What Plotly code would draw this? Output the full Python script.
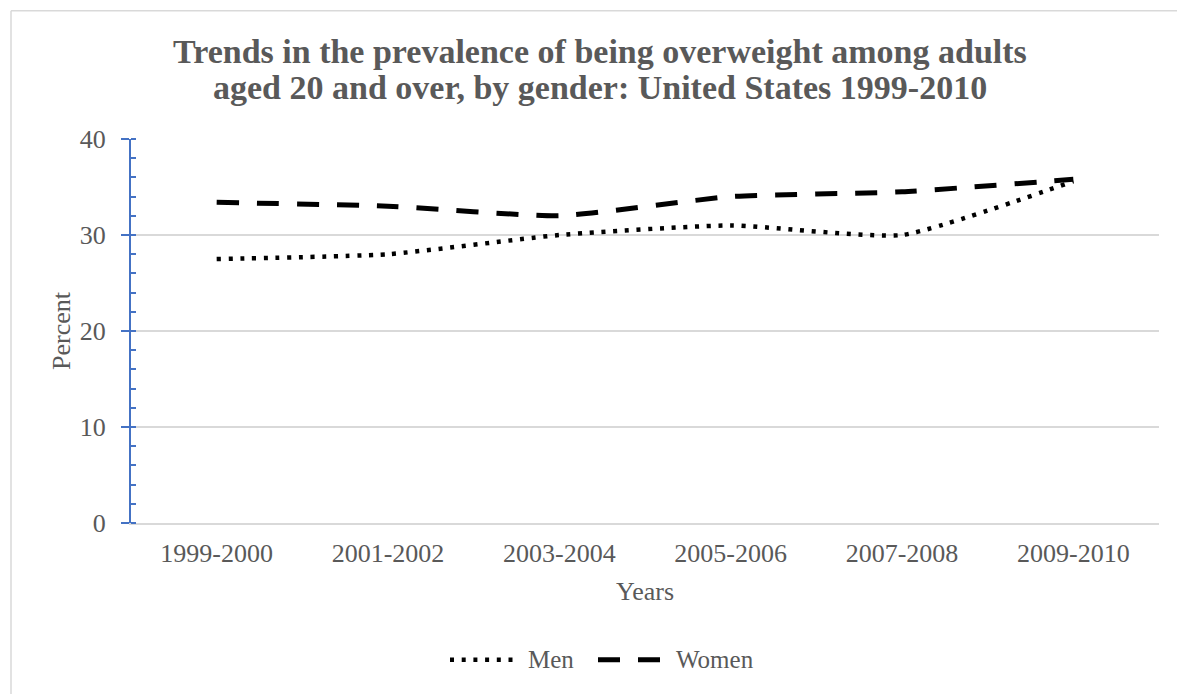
import plotly.graph_objects as go

# Survey periods and prevalence (percent) by gender
periods = ["1999-2000", "2001-2002", "2003-2004", "2005-2006", "2007-2008", "2009-2010"]
men = [27.5, 28.0, 30.0, 31.0, 30.0, 35.6]
women = [33.4, 33.0, 32.0, 34.0, 34.5, 35.8]

series_names = ["Men", "Women"]

title_lines = [
    "Trends in the prevalence of being overweight among adults",
    "aged 20 and over, by gender: United States 1999-2010",
]

FONT = "Liberation Serif"
GREY = "#595959"
GRID = "#D9D9D9"
MEN_LINE = dict(color="black", width=4.5, dash="4px,7.7px")
WOMEN_LINE = dict(color="black", width=5, dash="22px,18px")

# plot-area geometry in pixels (used to place titles/legend/borders in paper units)
L, T, W, H = 131, 139.3, 1028, 384


def px_x(x):
    return (x - L) / W


def px_y(y):
    return 1 + (T - y) / H


fig = go.Figure()
fig.add_trace(go.Scatter(
    x=periods, y=men, name=series_names[0], mode="lines", showlegend=False,
    line=dict(**MEN_LINE, shape="spline", smoothing=0.5),
))
fig.add_trace(go.Scatter(
    x=periods, y=women, name=series_names[1], mode="lines", showlegend=False,
    line=dict(**WOMEN_LINE, shape="spline", smoothing=0.5),
))

annotations = [
    dict(text=f"<b>{line}</b>", xref="paper", yref="paper", x=px_x(600), y=px_y(yc),
         xanchor="center", yanchor="middle", showarrow=False,
         font=dict(size=34, color=GREY, family=FONT))
    for line, yc in zip(title_lines, [52, 88])
]
annotations += [
    dict(text="Years", xref="paper", yref="paper", x=px_x(645), y=px_y(592),
         xanchor="center", yanchor="middle", showarrow=False,
         font=dict(size=26, color=GREY)),
    dict(text="Percent", xref="paper", yref="paper", x=px_x(61), y=0.5, textangle=-90,
         xanchor="center", yanchor="middle", showarrow=False,
         font=dict(size=26, color=GREY)),
]

# legend row below the axis: sample line + label for each series
legend_y = px_y(660)
legend_items = [(series_names[0], MEN_LINE, 450, 515, 526), (series_names[1], WOMEN_LINE, 598, 662, 674)]
shapes = []
for name, style, x0, x1, tx in legend_items:
    shapes.append(dict(type="line", xref="paper", yref="paper", x0=px_x(x0), x1=px_x(x1),
                       y0=legend_y, y1=legend_y, line=style))
    annotations.append(dict(text=name, xref="paper", yref="paper", x=px_x(tx), y=legend_y,
                            xanchor="left", yanchor="middle", showarrow=False,
                            font=dict(size=25, color=GREY)))

# chart-area border (top and left edges)
shapes += [
    dict(type="line", xref="paper", yref="paper", x0=px_x(11), x1=1.3, y0=px_y(11), y1=px_y(11),
         line=dict(color=GRID, width=1.5)),
    dict(type="line", xref="paper", yref="paper", x0=px_x(11), x1=px_x(11), y0=px_y(11), y1=-0.7,
         line=dict(color=GRID, width=1.5)),
]

fig.update_layout(
    width=1177, height=694,
    margin=dict(l=L, r=1177 - L - W, t=T, b=694 - T - H),
    paper_bgcolor="white", plot_bgcolor="white",
    font=dict(family=FONT, color=GREY, size=26),
    showlegend=False,
    xaxis=dict(
        type="category", showgrid=False, showline=True, linecolor=GRID, linewidth=1.5,
        ticks="", tickfont=dict(size=26, color=GREY), ticklabelstandoff=6,
        range=[-0.5, 5.5], fixedrange=True,
    ),
    yaxis=dict(
        range=[0, 40], dtick=10, showgrid=True, gridcolor=GRID, gridwidth=1.5,
        showline=True, linecolor="#4472C4", linewidth=2,
        ticks="outside", ticklen=8, tickcolor="#4472C4", tickwidth=2,
        minor=dict(dtick=2, ticks="inside", ticklen=5, tickcolor="#4472C4", tickwidth=2, showgrid=False),
        tickfont=dict(size=26, color=GREY), ticklabelstandoff=10, zeroline=False,
    ),
    annotations=annotations,
    shapes=shapes,
)

fig.write_html("out.html")
